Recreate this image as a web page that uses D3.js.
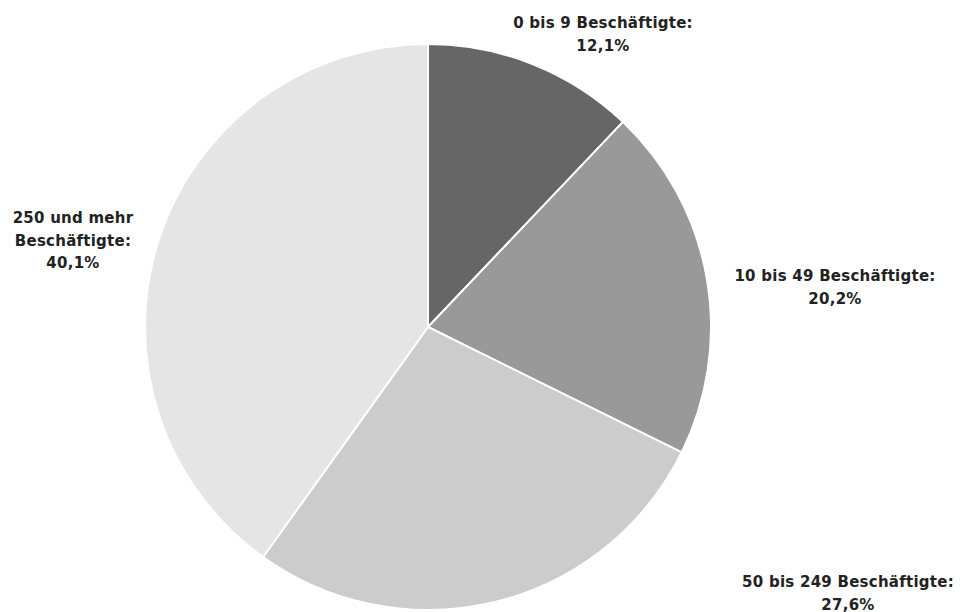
<!DOCTYPE html>
<html>
<head>
<meta charset="utf-8">
<script src="https://cdn.jsdelivr.net/npm/d3@7"></script>
<style>
  body { margin: 0; background: #fff; }
  text { font-family: "DejaVu Sans", sans-serif; font-weight: bold; font-size: 15px; letter-spacing: 0.25px; fill: #222; }
</style>
</head>
<body>
<div id="container"></div>
<script>
const width = 960, height = 612;

// data
const categories = ["0 bis 9 Beschäftigte:", "10 bis 49 Beschäftigte:", "50 bis 249 Beschäftigte:", "250 und mehr Beschäftigte:"];
const values = [12.1, 20.2, 27.6, 40.1];
const colors = ["#666666", "#999999", "#cccccc", "#e5e5e5"];

// label lines (the last category wraps)
const labelLines = [
  ["0 bis 9 Beschäftigte:"],
  ["10 bis 49 Beschäftigte:"],
  ["50 bis 249 Beschäftigte:"],
  ["250 und mehr", "Beschäftigte:"]
];

const cx = 428, cy = 327, radius = 283;
// label offsets from pie centre (first baseline)
const labelPos = [[175, -299], [407, -46], [420, 260], [-355, -104]];
const lineHeight = 22.5;

const svg = d3.select("#container")
  .append("svg")
  .attr("width", width)
  .attr("height", height)

const g = svg.append("g").attr("transform", `translate(${cx},${cy})`)

const pie = d3.pie().sort(null).value(d => d)
const arc = d3.arc().innerRadius(0).outerRadius(radius)
const fmt = v => d3.format(".1f")(v).replace(".", ",") + "%"

g.selectAll("path")
  .data(pie(values))
  .join("path")
  .attr("d", arc)
  .attr("fill", (d, i) => colors[i])
  .attr("stroke", "#fff")
  .attr("stroke-width", 2)
  .attr("stroke-linejoin", "round")

const labels = g.selectAll(".label")
  .data(values)
  .join("text")
  .attr("class", "label")
  .attr("text-anchor", "middle")
  .attr("transform", (d, i) => `translate(${labelPos[i][0]},${labelPos[i][1]})`)

labels.each(function (d, i) {
  const lines = labelLines[i].concat([fmt(d)])
  d3.select(this).selectAll("tspan")
    .data(lines)
    .join("tspan")
    .attr("x", 0)
    .attr("dy", (l, j) => j === 0 ? 0 : lineHeight)
    .text(l => l)
})
</script>
</body>
</html>
